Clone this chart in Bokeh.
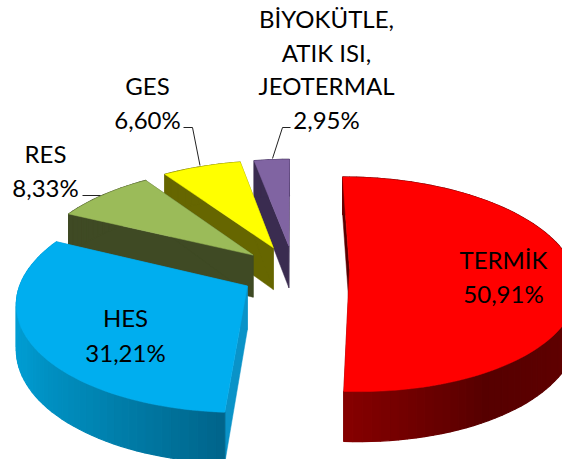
import numpy as np
from bokeh.plotting import figure
from bokeh.models import ColumnDataSource
from bokeh.core.properties import value
from bokeh.embed import file_html
from bokeh.resources import INLINE

# data
categories = ["TERMİK", "HES", "RES", "GES", "BİYOKÜTLE,\nATIK ISI,\nJEOTERMAL"]
shares = [50.91, 31.21, 8.33, 6.60, 2.95]
top_colors = ["#ff0000", "#00aeef", "#9bbb59", "#ffff00", "#8064a2"]
face_colors = ["#5a0000", "#0a93c8", "#3f4a24", "#666600", "#3a2c50"]
# rim shading: (angle in degrees, colour)
rim_shades = [
    [(0, "#660000"), (100, "#660000"), (150, "#560000"), (184, "#870000")],
    [(183, "#00648a"), (215, "#0085b3"), (245, "#009acf"), (296, "#00a3dc")],
    [(0, "#3f4a24"), (360, "#3f4a24")],
    [(0, "#666600"), (360, "#666600")],
    [(0, "#3a2c50"), (360, "#3a2c50")],
]

# label layout (centre x, first line y, line pitch in page pixels)
label_pos = [(503, 259, 34), (125, 317, 35), (45, 153, 34), (147, 85, 34), (326, 18, 33.5)]
leaders = [
    ([82, 100], [195, 195]),
    ([183, 192, 199.5], [127, 127, 165]),
    ([290, 282, 272], [127, 127, 158]),
]

# projection layout
CX, CY, A, B, K, H = 293, 271, 224, 105, 0.14, 43
explode = [0.25, 0.23, 0.23, 0.23, 0.23]
nudge = [(0, -3), (-1, 2), (-2, -1), (-1, -2), (0, -2)]


def proj(X, Y, depth=0.0):
    s = 1.0 / (1.0 + K * np.asarray(Y))
    return CX + A * np.asarray(X) * s, CY - B * np.asarray(Y) * s + H * depth * s


def hex_rgb(c):
    return np.array([int(c[i:i + 2], 16) for i in (1, 3, 5)], float)


def shade(stops, t):
    ts = [q[0] for q in stops]
    cols = np.array([hex_rgb(q[1]) for q in stops])
    rgb = [np.interp(t, ts, cols[:, j]) for j in range(3)]
    return "#%02x%02x%02x" % tuple(int(round(v)) for v in rgb)


p = figure(width=562, height=459, x_range=(0, 562), y_range=(459, 0),
           output_backend="svg", toolbar_location=None, min_border=0,
           outline_line_color=None,
           background_fill_color=None, border_fill_color=None)
p.xaxis.visible = False
p.yaxis.visible = False
p.grid.visible = False

edges = np.concatenate([[0], np.cumsum(shares)]) / sum(shares) * 360.0


def draw(i):
    t0, t1 = edges[i], edges[i + 1]
    m = np.radians((t0 + t1) / 2)
    e = explode[i]
    dx, dy = nudge[i]
    ax, ay = e * np.sin(m), e * np.cos(m)
    ts = np.linspace(t0, t1, max(int((t1 - t0) / 2), 4) + 1)
    rad = np.radians(ts)
    X, Y = ax + np.sin(rad), ay + np.cos(rad)

    def P(a, b, depth=0.0):
        u, v = proj(a, b, depth)
        return u + dx, v + dy

    # radial faces
    for end in (0, -1):
        x0, y0 = P(ax, ay)
        x1, y1 = P(X[end], Y[end])
        x2, y2 = P(X[end], Y[end], 1)
        x3, y3 = P(ax, ay, 1)
        p.patch([x0, x1, x2, x3], [y0, y1, y2, y3], fill_color=face_colors[i],
                line_color=face_colors[i], line_width=0.5)
    # rim strips
    sx_t, sy_t = P(X, Y)
    sx_b, sy_b = P(X, Y, 1)
    xs, ys, cs = [], [], []
    for j in range(len(ts) - 1):
        xs.append([sx_t[j], sx_t[j + 1], sx_b[j + 1], sx_b[j]])
        ys.append([sy_t[j], sy_t[j + 1], sy_b[j + 1], sy_b[j]])
        cs.append(shade(rim_shades[i], (ts[j] + ts[j + 1]) / 2))
    p.patches(xs, ys, fill_color=cs, line_color=cs, line_width=1.2)
    # top
    x0, y0 = P(ax, ay)
    p.patch(np.concatenate([[x0], sx_t]), np.concatenate([[y0], sy_t]),
            fill_color=top_colors[i], line_color=top_colors[i], line_width=0.5)


for i in [4, 3, 2, 1, 0]:
    draw(i)

for lx, ly in leaders:
    p.line(lx, ly, line_color="#222222", line_width=1)

tx, ty, tt = [], [], []
for cat, v, (lx, ly, pitch) in zip(categories, shares, label_pos):
    lines = cat.split("\n") + [f"{v:.2f}".replace(".", ",") + "%"]
    for n, s in enumerate(lines):
        tx.append(lx)
        ty.append(ly + n * pitch)
        tt.append(s)
p.text(x="x", y="y", text="t", source=ColumnDataSource(dict(x=tx, y=ty, t=tt)),
       text_font=value("Lato"), text_font_size="24px", text_color="#000000",
       text_align="center", text_baseline="middle")

open("out.html", "w").write(file_html(p, INLINE))
